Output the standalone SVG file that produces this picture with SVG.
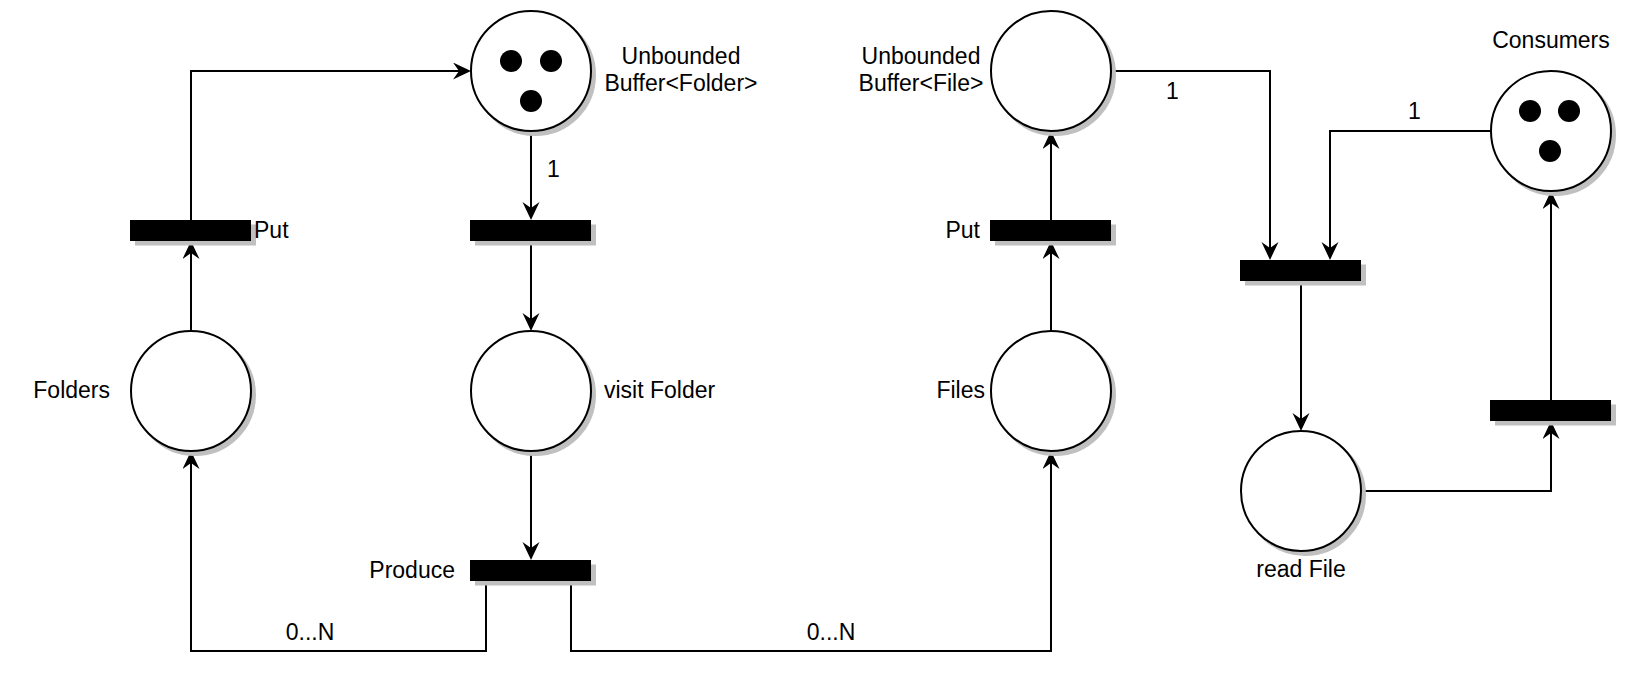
<svg xmlns="http://www.w3.org/2000/svg" width="1642" height="680" viewBox="0 0 1642 680">
  <style>
    .place { fill: #ffffff; stroke: #000000; stroke-width: 2; }
    .pshadow { fill: #c0c0c0; stroke: #c0c0c0; stroke-width: 2; }
    .trans { fill: #000000; stroke: #000000; stroke-width: 1; }
    .tshadow { fill: #c0c0c0; stroke: #c0c0c0; stroke-width: 1; }
    .token { fill: #000000; }
    .edge { fill: none; stroke: #000000; stroke-width: 2; }
    .arrow { fill: none; stroke: #000000; stroke-width: 2; marker-end: url(#arr); }
    text { font-family: "Liberation Sans", Arial, sans-serif; font-size: 23px; fill: #000000; }
    .mid { text-anchor: middle; }
    .end { text-anchor: end; }
  </style>
  <defs>
    <marker id="arr" markerUnits="userSpaceOnUse" markerWidth="19" markerHeight="18" refX="12" refY="8.5" orient="auto">
      <path d="M0,0 L18,8.5 L0,17 L6,8.5 Z" fill="#000000"/>
    </marker>
  </defs>
  <rect x="0" y="0" width="1642" height="680" fill="#ffffff"/>

  <g id="connectors">
    <path class="arrow" d="M191,331 L191,247"/>
    <path class="arrow" d="M191,221 L191,71 L465,71"/>
    <path class="arrow" d="M531,131 L531,214"/>
    <path class="arrow" d="M531,241 L531,325"/>
    <path class="arrow" d="M531,451 L531,554"/>
    <path class="arrow" d="M486,581 L486,651 L191,651 L191,457"/>
    <path class="arrow" d="M571,581 L571,651 L1051,651 L1051,457"/>
    <path class="arrow" d="M1051,331 L1051,247"/>
    <path class="arrow" d="M1051,221 L1051,137"/>
    <path class="arrow" d="M1111,71 L1270,71 L1270,254"/>
    <path class="arrow" d="M1491,131 L1330,131 L1330,254"/>
    <path class="arrow" d="M1301,281 L1301,425"/>
    <path class="arrow" d="M1361,491 L1551,491 L1551,427"/>
    <path class="arrow" d="M1551,401 L1551,197"/>
    <text x="547" y="177">1</text>
    <text x="1166" y="99">1</text>
    <text x="1408" y="119">1</text>
    <text class="mid" x="310" y="640">0...N</text>
    <text class="mid" x="831" y="640">0...N</text>
  </g>

  <g id="buffer-folder">
    <circle class="pshadow" cx="535" cy="75" r="60"/>
    <circle class="place" cx="531" cy="71" r="60"/>
    <circle class="token" cx="511" cy="61" r="11"/>
    <circle class="token" cx="551" cy="61" r="11"/>
    <circle class="token" cx="531" cy="101" r="11"/>
    <text class="mid" x="681" y="64">Unbounded</text>
    <text class="mid" x="681" y="91">Buffer&lt;Folder&gt;</text>
  </g>

  <g id="folders">
    <circle class="pshadow" cx="195" cy="395" r="60"/>
    <circle class="place" cx="191" cy="391" r="60"/>
    <text class="end" x="110" y="398">Folders</text>
  </g>

  <g id="visit-folder">
    <circle class="pshadow" cx="535" cy="395" r="60"/>
    <circle class="place" cx="531" cy="391" r="60"/>
    <text x="604" y="398">visit Folder</text>
  </g>

  <g id="buffer-file">
    <circle class="pshadow" cx="1055" cy="75" r="60"/>
    <circle class="place" cx="1051" cy="71" r="60"/>
    <text class="mid" x="921" y="64">Unbounded</text>
    <text class="mid" x="921" y="91">Buffer&lt;File&gt;</text>
  </g>

  <g id="files">
    <circle class="pshadow" cx="1055" cy="395" r="60"/>
    <circle class="place" cx="1051" cy="391" r="60"/>
    <text class="end" x="985" y="398">Files</text>
  </g>

  <g id="consumers">
    <circle class="pshadow" cx="1555" cy="135" r="60"/>
    <circle class="place" cx="1551" cy="131" r="60"/>
    <circle class="token" cx="1530" cy="111" r="11"/>
    <circle class="token" cx="1569" cy="111" r="11"/>
    <circle class="token" cx="1550" cy="151" r="11"/>
    <text class="mid" x="1551" y="48">Consumers</text>
  </g>

  <g id="read-file">
    <circle class="pshadow" cx="1305" cy="495" r="60"/>
    <circle class="place" cx="1301" cy="491" r="60"/>
    <text class="mid" x="1301" y="577">read File</text>
  </g>

  <g id="put-folder">
    <rect class="tshadow" x="135.5" y="225" width="120" height="20"/>
    <rect class="trans" x="130.5" y="220.5" width="120" height="20"/>
    <text x="254" y="238">Put</text>
  </g>

  <g id="take-folder">
    <rect class="tshadow" x="475.5" y="225" width="120" height="20"/>
    <rect class="trans" x="470.5" y="220.5" width="120" height="20"/>
  </g>

  <g id="produce">
    <rect class="tshadow" x="475.5" y="565" width="120" height="20"/>
    <rect class="trans" x="470.5" y="560.5" width="120" height="20"/>
    <text class="end" x="455" y="578">Produce</text>
  </g>

  <g id="put-file">
    <rect class="tshadow" x="995.5" y="225" width="120" height="20"/>
    <rect class="trans" x="990.5" y="220.5" width="120" height="20"/>
    <text class="end" x="980" y="238">Put</text>
  </g>

  <g id="take-file">
    <rect class="tshadow" x="1245.5" y="265" width="120" height="20"/>
    <rect class="trans" x="1240.5" y="260.5" width="120" height="20"/>
  </g>

  <g id="release-consumer">
    <rect class="tshadow" x="1495.5" y="405" width="120" height="20"/>
    <rect class="trans" x="1490.5" y="400.5" width="120" height="20"/>
  </g>
</svg>
